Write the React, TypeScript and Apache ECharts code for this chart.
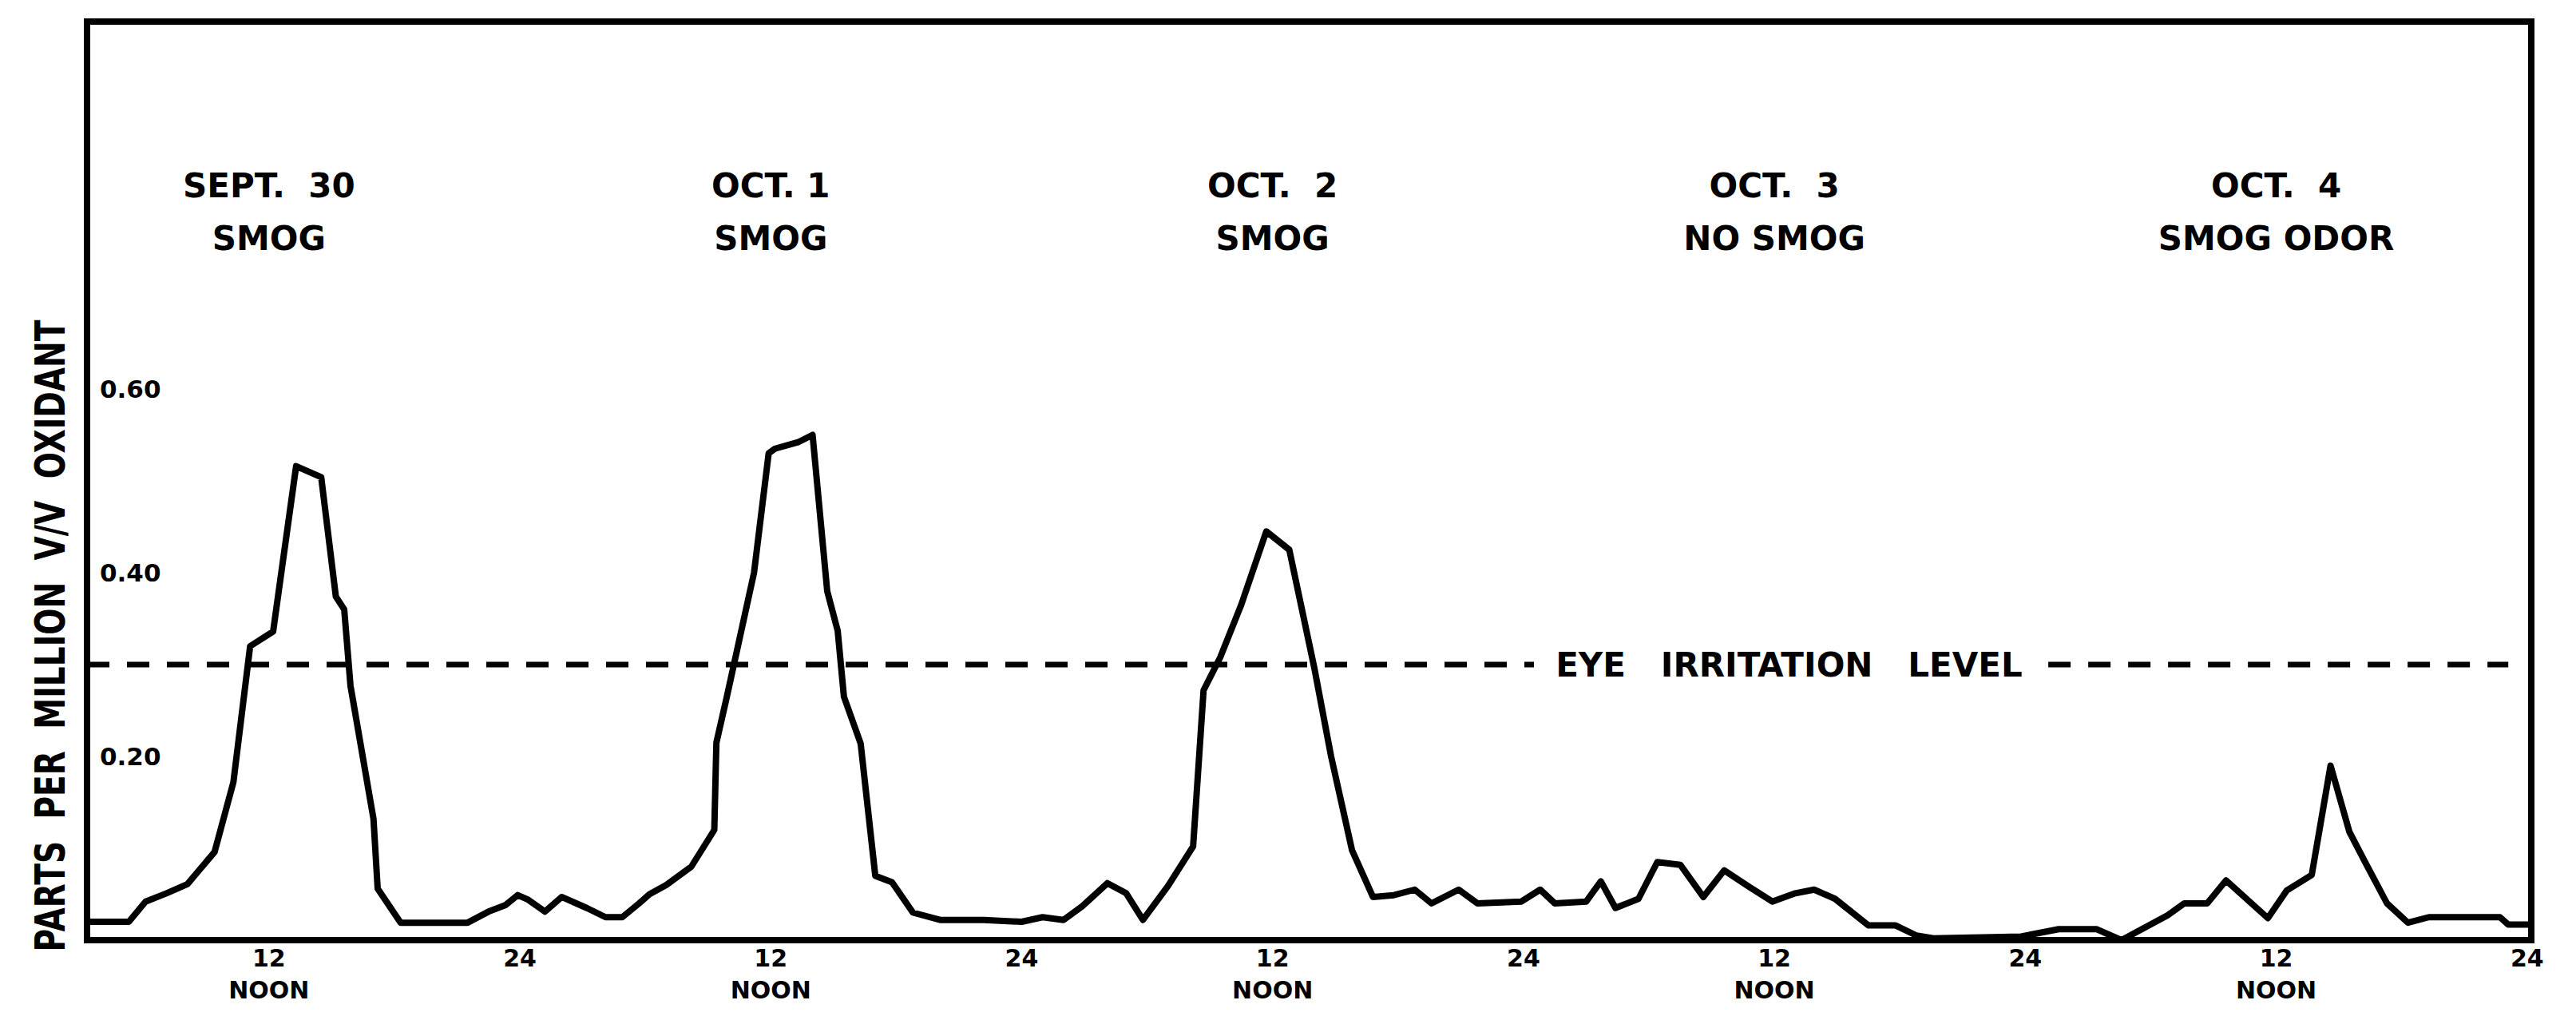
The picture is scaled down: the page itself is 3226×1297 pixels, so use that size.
import React, { useEffect, useRef } from "react";
import * as echarts from "echarts";

const W = 3226;
const H = 1297;

// Oxidant readings: [hour of the day, parts per million v/v]
const sept30: [number, number][] = [
  [3.3, 0.02], [5.3, 0.02], [6.1, 0.042], [7.1, 0.051], [8.1, 0.061], [9.4, 0.096],
  [10.3, 0.172], [11.1, 0.32], [12.2, 0.336], [13.3, 0.516], [14.5, 0.504], [15.2, 0.374],
  [15.6, 0.36], [15.9, 0.277], [17.0, 0.132], [17.2, 0.056], [18.3, 0.019], [21.5, 0.019],
  [22.5, 0.031], [23.3, 0.038], [23.9, 0.049],
];
const oct1: [number, number][] = [
  [0.4, 0.044], [1.2, 0.031], [2.0, 0.047], [3.2, 0.035], [4.1, 0.025], [4.9, 0.025],
  [5.7, 0.04], [6.2, 0.05], [7.0, 0.06], [8.2, 0.08], [9.3, 0.12], [9.4, 0.215],
  [9.9, 0.265], [11.2, 0.4], [11.9, 0.53], [12.2, 0.535], [13.3, 0.542], [14.0, 0.55],
  [14.7, 0.38], [15.2, 0.337], [15.5, 0.265], [16.3, 0.214], [17.0, 0.07], [17.8, 0.063],
  [18.8, 0.03], [20.1, 0.022], [22.2, 0.022], [24.0, 0.02],
];
const oct2: [number, number][] = [
  [1.0, 0.025], [2.0, 0.022], [2.9, 0.037], [4.1, 0.062], [5.0, 0.051], [5.8, 0.022],
  [7.0, 0.059], [8.2, 0.102], [8.7, 0.272], [9.5, 0.308], [10.5, 0.365], [11.7, 0.445],
  [12.8, 0.425], [14.0, 0.296], [14.8, 0.2], [15.8, 0.098], [16.8, 0.047], [17.8, 0.049],
  [18.8, 0.055], [19.6, 0.04], [20.9, 0.055], [21.8, 0.04], [23.9, 0.042],
];
const oct3: [number, number][] = [
  [0.8, 0.055], [1.5, 0.04], [3.0, 0.042], [3.7, 0.064], [4.4, 0.035], [5.5, 0.045],
  [6.4, 0.085], [7.5, 0.082], [8.6, 0.047], [9.6, 0.076], [10.8, 0.058], [11.9, 0.042],
  [13.0, 0.051], [13.9, 0.055], [14.9, 0.045], [16.5, 0.016], [17.8, 0.016], [18.8, 0.005],
  [19.6, 0.002], [23.8, 0.004],
];
const oct4: [number, number][] = [
  [1.6, 0.012], [3.4, 0.012], [4.6, 0.0], [6.8, 0.027], [7.6, 0.04], [8.7, 0.04],
  [9.6, 0.065], [11.6, 0.024], [12.5, 0.054], [13.7, 0.071], [14.6, 0.19], [15.5, 0.118],
  [16.3, 0.083], [17.3, 0.04], [18.3, 0.019], [19.3, 0.025], [22.7, 0.025], [23.1, 0.017],
  [24.2, 0.017],
];

const dayReadings = [sept30, oct1, oct2, oct3, oct4];
const dayLabels = ["SEPT.  30", "OCT. 1", "OCT.  2", "OCT.  3", "OCT.  4"];
const dayNotes = ["SMOG", "SMOG", "SMOG", "NO SMOG", "SMOG ODOR"];

const hourTicks = [12, 24, 36, 48, 60, 72, 84, 96, 108, 120];
const ppmTicks = [0.2, 0.4, 0.6];

const eyeIrritationLevel = 0.3;
const eyeLineStart = 3.3;
const eyeLineGap = [72.5, 97.1];
const eyeLineEnd = 119.1;
const eyeLabelHour = 84.7;

const xMin = 3.3;
const xMax = 120.2;
const titleLevel = 0.793;

const BOLD_FONT = '"DejaVu Sans", sans-serif';

export default function App() {
  const ref = useRef<HTMLDivElement>(null);

  useEffect(() => {
    document.body.style.margin = "0";
    if (!ref.current) return;
    const chart = echarts.init(ref.current, undefined, { renderer: "svg" });

    const oxidant = dayReadings.flatMap((day, i) =>
      day.map(([h, v]) => [i * 24 + h, v])
    );
    const eyeLine: any[] = [
      [eyeLineStart, eyeIrritationLevel],
      [eyeLineGap[0], eyeIrritationLevel],
      [eyeLineGap[0], "-"],
      [eyeLineGap[1], eyeIrritationLevel],
      [eyeLineEnd, eyeIrritationLevel],
    ];

    const titlePoints = dayLabels.map((label, i) => ({
      name: `${label}\n${dayNotes[i]}`,
      coord: [i * 24 + 12, titleLevel],
    }));

    const option: any = {
      animation: false,
      backgroundColor: "#ffffff",
      grid: {
        left: 109,
        right: 56,
        top: 27,
        bottom: 120,
        show: true,
        borderColor: "#000",
        borderWidth: 8,
        backgroundColor: "transparent",
      },
      xAxis: {
        type: "value",
        min: xMin,
        max: xMax,
        axisLine: { show: false },
        axisTick: { show: false },
        splitLine: { show: false },
        axisLabel: {
          customValues: hourTicks,
          formatter: (v: number) => (Math.round(v) % 24 === 12 ? "12\nNOON" : "24"),
          fontFamily: BOLD_FONT,
          fontWeight: "bold",
          fontSize: 30,
          lineHeight: 40,
          color: "#000",
          margin: 2,
          showMaxLabel: true,
        },
      },
      yAxis: {
        type: "value",
        min: 0,
        max: 1,
        axisLine: { show: false },
        axisTick: { show: false },
        splitLine: { show: false },
        axisLabel: {
          customValues: ppmTicks,
          inside: true,
          margin: 16,
          formatter: (v: number) => v.toFixed(2),
          fontFamily: BOLD_FONT,
          fontWeight: "bold",
          fontSize: 31,
          color: "#000",
        },
      },
      series: [
        {
          type: "line",
          data: oxidant,
          symbol: "none",
          lineStyle: { color: "#000", width: 8, join: "round" },
          z: 3,
          markPoint: {
            symbol: "circle",
            symbolSize: 0,
            silent: true,
            label: {
              show: true,
              position: "inside",
              formatter: "{b}",
              fontFamily: BOLD_FONT,
              fontWeight: "bold",
              fontSize: 42,
              lineHeight: 66,
              color: "#000",
              align: "center",
            },
            data: [
              ...titlePoints,
              {
                name: "EYE   IRRITATION   LEVEL",
                coord: [eyeLabelHour, eyeIrritationLevel],
              },
            ],
          },
        },
        {
          type: "line",
          data: eyeLine,
          symbol: "none",
          connectNulls: false,
          lineStyle: { color: "#000", width: 7, type: [28, 22] },
          z: 2,
        },
      ],
      graphic: [
        {
          type: "text",
          x: 63,
          y: 796,
          rotation: Math.PI / 2,
          scaleX: 0.753,
          style: {
            text: "PARTS  PER  MILLION  V/V  OXIDANT",
            fill: "#000",
            font: 'bold 52px "DejaVu Sans", sans-serif',
            textAlign: "center",
            textVerticalAlign: "middle",
            align: "center",
            verticalAlign: "middle",
          },
        },
      ],
    };

    chart.setOption(option);
    return () => chart.dispose();
  }, []);

  return <div ref={ref} style={{ width: W, height: H }} />;
}
